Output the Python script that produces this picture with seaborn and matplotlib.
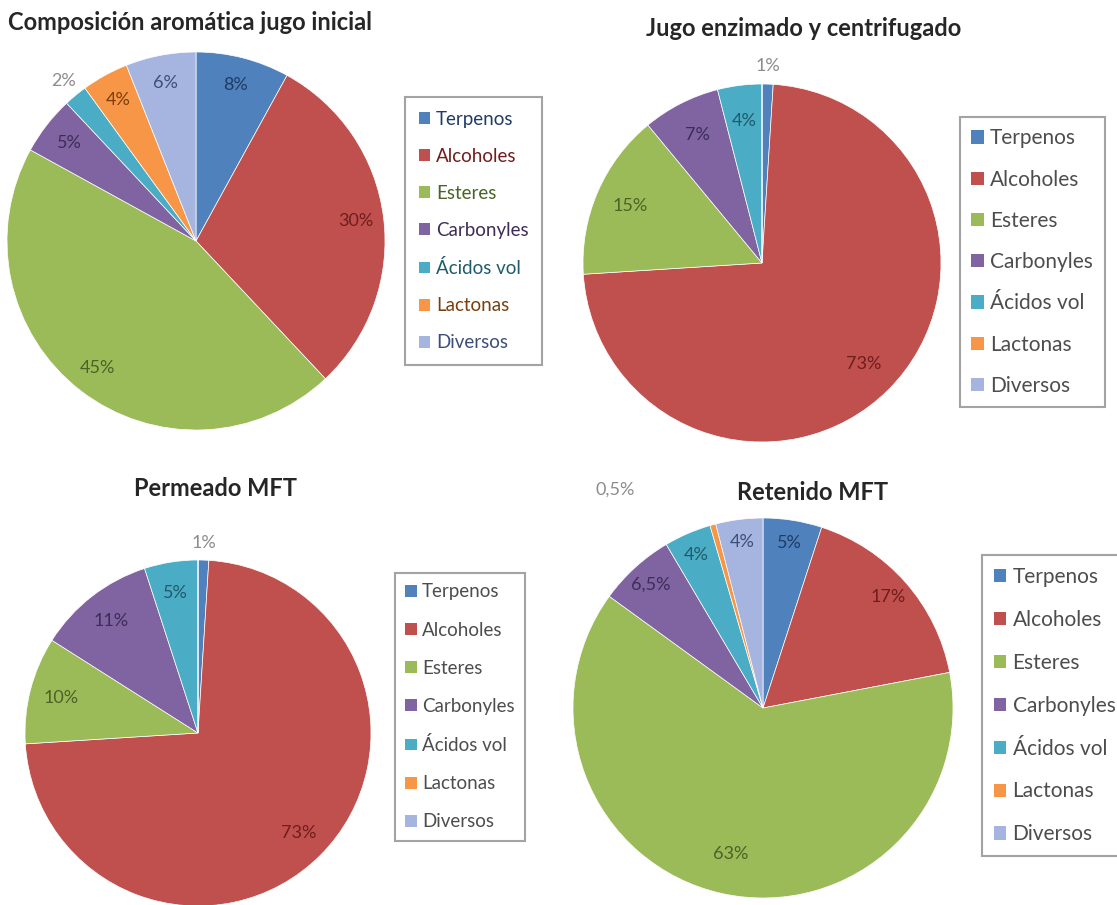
import matplotlib
matplotlib.use("Agg")
import matplotlib.pyplot as plt
from matplotlib.patches import Patch
import seaborn as sns
import numpy as np

sns.set_theme(style="white")
plt.rcParams['font.family'] = ['Lato', 'DejaVu Sans']

# data
categorias = ["Terpenos", "Alcoholes", "Esteres", "Carbonyles", "Ácidos vol", "Lactonas", "Diversos"]
titulos = ["Composición aromática jugo inicial", "Jugo enzimado y centrifugado",
           "Permeado MFT", "Retenido MFT"]
jugo_inicial = [8, 30, 45, 5, 2, 4, 6]
jugo_enzimado = [1, 73, 15, 7, 4, 0, 0]
permeado_mft = [1, 73, 10, 11, 5, 0, 0]
retenido_mft = [5, 17, 63, 6.5, 4, 0.5, 4]
series = [jugo_inicial, jugo_enzimado, permeado_mft, retenido_mft]

colores = ["#4F81BD", "#C0504D", "#9BBB59", "#8064A2", "#4BACC6", "#F79646", "#A5B5E0"]
oscuros = ["#1F3C66", "#6E1E1C", "#4B6326", "#3D2C58", "#1F5B6B", "#7A3E0C", "#3B4E7A"]

W, H = 1117, 905
fig = plt.figure(figsize=(W / 100, H / 100), dpi=100)

# layout in pixels: pie centre/radius, legend corner + font + spacing + pad, title pos
pies = [(196, 241, 189), (762, 263, 179), (198, 733, 173), (763, 708, 190)]
legs = [(405, 97, 13.5, 1.07, 0.74), (960, 117, 15, 1.02, 0.55),
        (395, 573, 13.5, 1.13, 0.55), (982, 555, 15, 1.10, 0.57)]
tits = [(8, 22, 'left'), (804, 28, 'center'), (215, 488, 'center'), (813, 492, 'center')]
pctd = [0.85, 0.80, 0.82, 0.88]
pctd_over = {(3, 2): 0.79}


def fmt(v):
    return f"{v:g}%".replace(".", ",")


for i, vals in enumerate(series):
    cx, cy, r = pies[i]
    ax = fig.add_axes([(cx - r) / W, 1 - (cy + r) / H, 2 * r / W, 2 * r / H])
    wedges, _ = ax.pie(vals, colors=colores, startangle=90, counterclock=False,
                       wedgeprops=dict(edgecolor="white", linewidth=0.5))
    ax.set_aspect('auto')
    ax.set_xlim(-1, 1)
    ax.set_ylim(-1, 1)
    ax.axis('off')
    for j, (w, v) in enumerate(zip(wedges, vals)):
        if v == 0:
            continue
        ang = np.deg2rad((w.theta1 + w.theta2) / 2)
        if v < 3:
            d = 1.1
            col = "#8c8c8c"
            if i == 3:
                x, y = -0.78, 1.15
            else:
                x, y = d * np.cos(ang), d * np.sin(ang)
        else:
            d = pctd_over.get((i, j), pctd[i])
            col = oscuros[j]
            x, y = d * np.cos(ang), d * np.sin(ang)
        ax.text(x, y, fmt(v), ha='center', va='center', fontsize=13,
                color=col, clip_on=False)

    lx, ly, fs, sp, bp = legs[i]
    handles = [Patch(facecolor=c, edgecolor='none') for c in colores]
    leg = fig.legend(handles, categorias, loc='upper left',
                     bbox_to_anchor=(lx / W, 1 - ly / H), fontsize=fs,
                     frameon=True, fancybox=False, edgecolor="#8c8c8c",
                     labelspacing=sp, handlelength=0.6, handleheight=0.6,
                     handletextpad=0.3, borderpad=bp, borderaxespad=0)
    leg.get_frame().set_linewidth(1.5)
    for k, t in enumerate(leg.get_texts()):
        t.set_color(oscuros[k] if i == 0 else "#4d4d4d")

    tx, ty, ha = tits[i]
    fig.text(tx / W, 1 - ty / H, titulos[i], ha=ha, va='center',
             fontsize=17, fontweight='bold', color="#262626")

plt.savefig("out.png", dpi=100)
